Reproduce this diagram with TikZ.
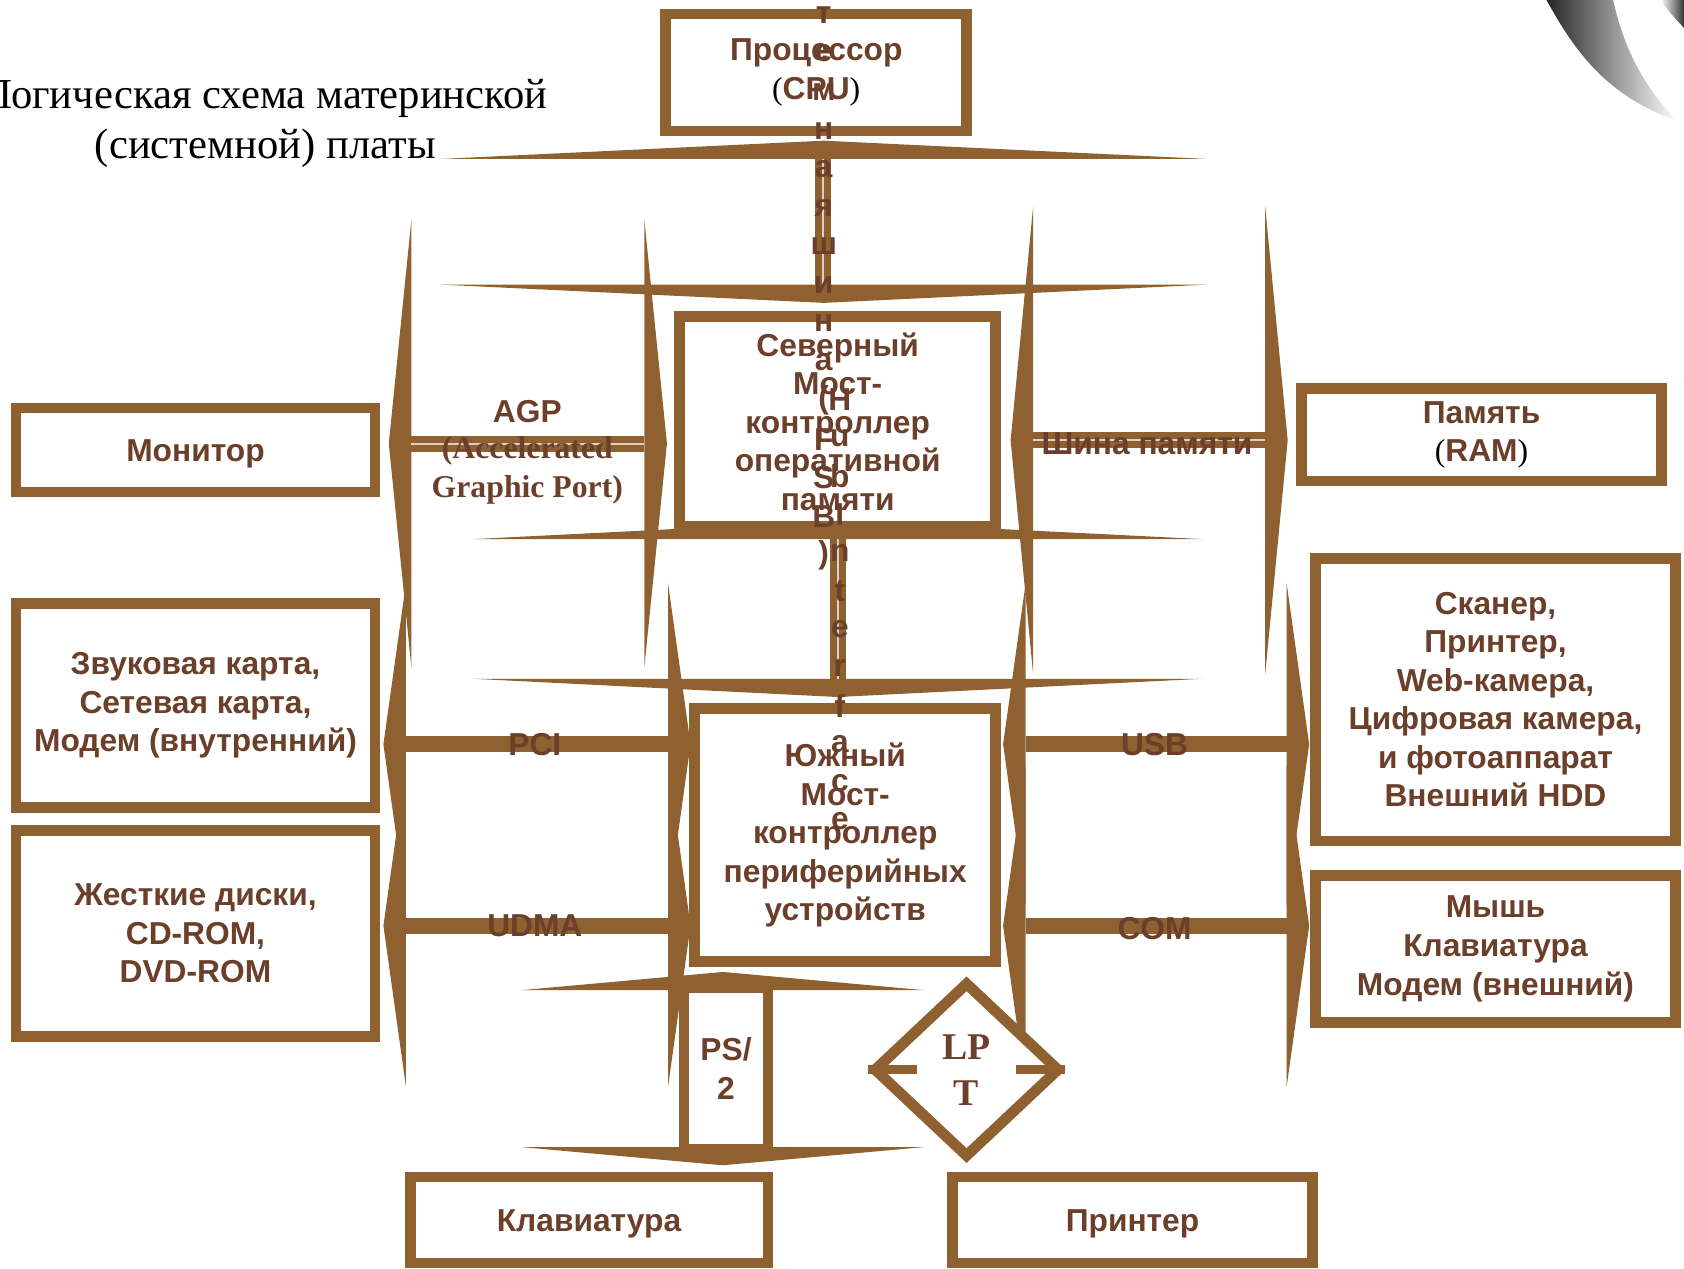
\documentclass[tikz,border=0pt]{standalone}
\usepackage{fontspec}
\setmainfont{Liberation Serif}
\setsansfont{Liberation Sans}
\usetikzlibrary{shapes.geometric}
\definecolor{brd}{RGB}{143,96,48}
\definecolor{ink}{RGB}{107,63,42}

\newcommand\lblfont{\sffamily\bfseries\fontsize{8.4}{10.2}\selectfont}
\newcommand\serfont{\rmfamily\bfseries\fontsize{8.4}{10.2}\selectfont}
\newcommand\tpar[1]{{\rmfamily\mdseries\color{black}#1}}

% left-right bus: name, x left, x right, y, half height of heads
\newcommand\lrbus[5]{%
  \coordinate (#1-l) at (#2,#4);
  \coordinate (#1-r) at (#3,#4);
  \fill[bus] (#2,{#4-#5}) -- ({#2-21},#4) -- (#2,{#4+#5}) -- cycle;
  \fill[bus] (#3,{#4-#5}) -- ({#3+21},#4) -- (#3,{#4+#5}) -- cycle;
  \draw[shaft] (#1-l) -- (#1-r);
}
% up-down bus: name, y top, y bottom, x of heads, half width of heads, x of shaft
\newcommand\udbus[6]{%
  \coordinate (#1-t) at (#6,#2);
  \coordinate (#1-b) at (#6,#3);
  \fill[bus] ({#4-#5},#2) -- (#4,{#2-17}) -- ({#4+#5},#2) -- cycle;
  \fill[bus] ({#4-#5},#3) -- (#4,{#3+17}) -- ({#4+#5},#3) -- cycle;
  \draw[shaft] (#1-t) -- (#1-b);
}

\begin{document}
\begin{tikzpicture}[x=0.01cm, y=-0.01cm,
    box/.style 2 args={draw=brd, fill=white, line width=1mm, minimum width=#1,
      minimum height=#2, align=center, text=ink, font=\lblfont,
      execute at begin node={\rule{0pt}{7.6pt}}},
    bus/.style={fill=brd},
    shaft/.style={draw=brd, line width=1.5mm},
    gap/.style={draw=white!70!brd, line width=0.5pt},
    lbl/.style={text=ink, font=\lblfont, inner sep=0pt},
    serlbl/.style={text=ink, font=\serfont, inner sep=0pt}]
    \useasboundingbox (0,0) rectangle (1568,1181);

    % page curl
    \shade[left color=black!85, middle color=gray!50, right color=white]
        (1440,0) .. controls (1470,55) and (1500,90) .. (1562,113)
        .. controls (1530,80) and (1512,45) .. (1502,0) -- cycle;
    \shade[left color=white, right color=black!80]
        (1546,0) .. controls (1555,12) .. (1568,26) -- (1568,0) -- cycle;

    % title
    \node[font=\fontsize{11.3}{13.4}\selectfont, align=center] (ttl) at (247,115)
        {Логическая схема материнской\\(системной) платы};

    % boxes
    \node[box={2.80cm}{1.09cm}] (cpu) at (760,67.5) {Процессор\\\tpar{(}CPU\tpar{)}};
    \node[box={2.94cm}{1.95cm}] (nb) at (780,392.5) {Северный\\Мост-\\контроллер\\оперативной\\памяти};
    \node[box={2.80cm}{2.35cm}] (sb) at (787,777.5) {Южный\\Мост-\\контроллер\\периферийных\\устройств};
    \node[box={3.34cm}{0.78cm}] (mon) at (182,419) {Монитор};
    \node[box={3.34cm}{1.90cm}] (snd) at (182,657) {Звуковая карта,\\Сетевая карта,\\Модем (внутренний)};
    \node[box={3.34cm}{1.92cm}] (hdd) at (182,869) {Жесткие диски,\\CD-ROM,\\DVD-ROM};
    \node[box={3.35cm}{0.80cm}] (ram) at (1379.5,405) {Память\\\tpar{(}RAM\tpar{)}};
    \node[box={3.35cm}{2.63cm}] (ext) at (1392.5,651.5) {Сканер,\\Принтер,\\Web-камера,\\Цифровая камера,\\и фотоаппарат\\Внешний HDD};
    \node[box={3.35cm}{1.37cm}] (inp) at (1392.5,883.5) {Мышь\\Клавиатура\\Модем (внешний)};
    \node[box={3.33cm}{0.80cm}] (kbd) at (548.5,1136) {Клавиатура};
    \node[box={3.35cm}{0.80cm}] (prn) at (1054.5,1136) {Принтер};

    % buses
    \udbus{fsb}{148}{265}{767}{357}{766}
    \udbus{hub}{502}{632}{780}{340}{780}
    \udbus{ps}{922}{1068}{673}{188}{676}
    \lrbus{agp}{383}{600}{413}{208}
    \lrbus{mem}{962}{1178}{410}{218}
    \lrbus{pci}{378}{622}{693}{150}
    \lrbus{udma}{378}{622}{862}{150}
    \lrbus{usb}{955}{1198}{693}{150}
    \lrbus{com}{955}{1198}{862}{150}
    \draw[gap] (agp-l) -- (agp-r);
    \draw[gap] (mem-l) -- (mem-r);
    \draw[gap] (fsb-t) -- (fsb-b);
    \draw[gap] (hub-t) -- (hub-b);

    \node[box={0.78cm}{1.50cm}] (ps2) at (676,995) {PS/\\2};
    \node[diamond, draw=brd, fill=white, line width=1mm, minimum width=1.74cm,
        minimum height=1.64cm, inner sep=0pt, align=center, text=ink,
        font=\rmfamily\bfseries\fontsize{10}{12.2}\selectfont] (lpt) at (900,996) {LP\\T};
    \draw[brd, line width=0.8mm] (lpt.west) -- ++(46,0);
    \draw[brd, line width=0.8mm] (lpt.east) -- ++(-46,0);

    % bus labels
    \node[lbl] (agpt) at (491,383) {AGP};
    \node[serlbl] (agpa) at (491,420) {(Accelerated};
    \node[serlbl] (agpg) at (491,456) {Graphic Port)};
    \node[lbl] (memt) at (1068,413) {Шина памяти};
    \node[lbl] (pcit) at (498,693) {PCI};
    \node[lbl] (udmat) at (498,862) {UDMA};
    \node[lbl] (usbt) at (1075,693) {USB};
    \node[lbl] (comt) at (1075,865) {COM};

    \foreach \c [count=\i] in {т,е,м,н,а,я,ш,и,н,а,{(},F,S,B,{)}}
        \node[lbl] (fsbc\i) at (767,{14+35.9*(\i-1)}) {\c};
    \foreach \c [count=\i] in {H,u,b,I,n,t,e,r,f,a,c,e}
        \node[lbl] (hubc\i) at (782,{372+35.7*(\i-1)}) {\c};
\end{tikzpicture}
\end{document}
